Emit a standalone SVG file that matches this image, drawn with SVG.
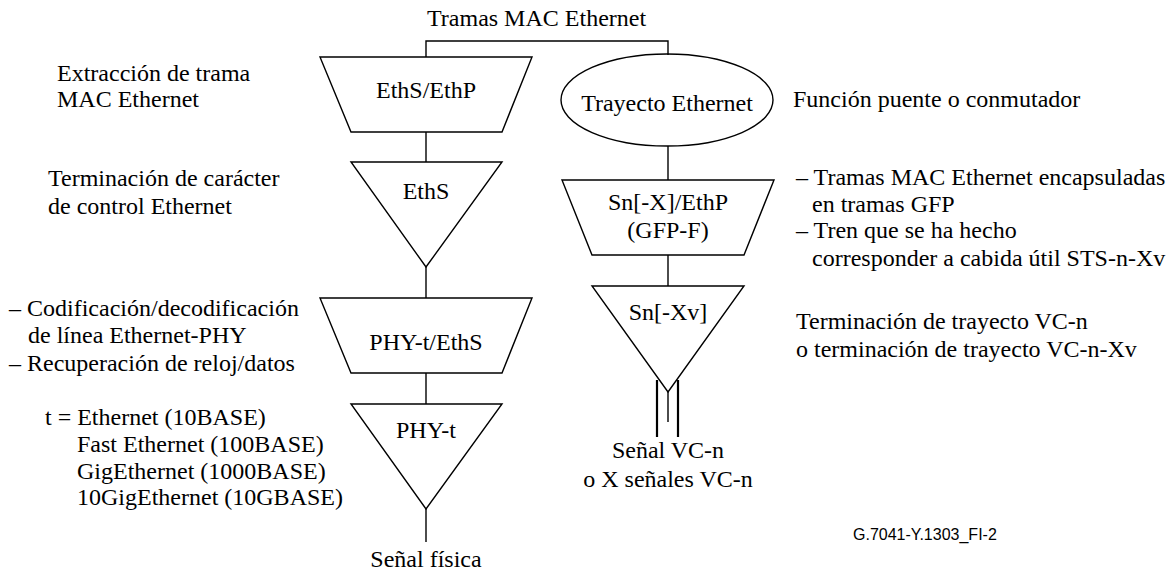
<svg xmlns="http://www.w3.org/2000/svg" width="1173" height="573" viewBox="0 0 1173 573">
<style>
.s{fill:none;stroke:#000;stroke-width:1.4}
.t{font-family:'Liberation Serif','DejaVu Serif',serif;font-size:24px;fill:#000}
.m{text-anchor:middle}
.id{font-family:'Liberation Sans','DejaVu Sans',sans-serif;font-size:16px;fill:#000}
</style>
<rect width="1173" height="573" fill="#fff"/>
<g id="connectors" class="s">
<polyline points="426,57 426,41 668,41 668,55"/>
<line x1="426" y1="132" x2="426" y2="162"/>
<line x1="426" y1="267" x2="426" y2="298"/>
<line x1="426" y1="373" x2="426" y2="404"/>
<line x1="426" y1="509" x2="426" y2="542"/>
<line x1="668" y1="146" x2="668" y2="180"/>
<line x1="668" y1="255" x2="668" y2="286"/>
<line x1="668" y1="392" x2="668" y2="422"/>
<line x1="657" y1="380" x2="657" y2="437" stroke-width="2.2"/>
<line x1="678" y1="380" x2="678" y2="437" stroke-width="2.2"/>
</g>
<g id="title"><text class="t" font-family="Liberation Serif, serif" x="427" y="26">Tramas MAC Ethernet</text></g>
<g id="eths-ethp">
<polygon class="s" points="320,57 532,57 502,132 351,132"/>
<text class="t m" font-family="Liberation Serif, serif" x="426" y="98">EthS/EthP</text>
</g>
<g id="eths">
<polygon class="s" points="351,162 502,162 426,267"/>
<text class="t m" font-family="Liberation Serif, serif" x="426" y="199">EthS</text>
</g>
<g id="phy-t-eths">
<polygon class="s" points="320,298 532,298 502,373 351,373"/>
<text class="t m" font-family="Liberation Serif, serif" x="426" y="350">PHY-t/EthS</text>
</g>
<g id="phy-t">
<polygon class="s" points="351,404 502,404 426,509"/>
<text class="t m" font-family="Liberation Serif, serif" x="426" y="438">PHY-t</text>
</g>
<g id="trayecto">
<ellipse class="s" cx="667" cy="100" rx="106" ry="46"/>
<text class="t m" font-family="Liberation Serif, serif" x="667" y="111">Trayecto Ethernet</text>
</g>
<g id="sn-ethp">
<polygon class="s" points="562,180 774,180 744,255 592,255"/>
<text class="t m" font-family="Liberation Serif, serif" x="668" y="210">Sn[-X]/EthP</text>
<text class="t m" font-family="Liberation Serif, serif" x="668" y="238">(GFP-F)</text>
</g>
<g id="sn-xv">
<polygon class="s" points="592,286 744,286 668,392"/>
<text class="t m" font-family="Liberation Serif, serif" x="668" y="320">Sn[-Xv]</text>
</g>
<g id="labels" font-family="Liberation Serif, serif">
<text class="t" x="57" y="81">Extracción de trama</text>
<text class="t" x="57" y="107">MAC Ethernet</text>
<text class="t" x="48" y="186">Terminación de carácter</text>
<text class="t" x="48" y="214">de control Ethernet</text>
<text class="t" x="9" y="316">– Codificación/decodificación</text>
<text class="t" x="28" y="343">de línea Ethernet-PHY</text>
<text class="t" x="9" y="371">– Recuperación de reloj/datos</text>
<text class="t" x="45" y="425">t = Ethernet (10BASE)</text>
<text class="t" x="77" y="452">Fast Ethernet (100BASE)</text>
<text class="t" x="77" y="479">GigEthernet (1000BASE)</text>
<text class="t" x="77" y="505">10GigEthernet (10GBASE)</text>
<text class="t m" x="426" y="567">Señal física</text>
<text class="t m" x="668" y="458">Señal VC-n</text>
<text class="t m" x="668" y="487">o X señales VC-n</text>
<text class="t" x="793" y="107">Función puente o conmutador</text>
<text class="t" x="796" y="185">– Tramas MAC Ethernet encapsuladas</text>
<text class="t" x="812" y="212">en tramas GFP</text>
<text class="t" x="796" y="238">– Tren que se ha hecho</text>
<text class="t" x="812" y="266">corresponder a cabida útil STS-n-Xv</text>
<text class="t" x="796" y="329">Terminación de trayecto VC-n</text>
<text class="t" x="796" y="357">o terminación de trayecto VC-n-Xv</text>
<text class="id" x="853" y="540">G.7041-Y.1303_FI-2</text>
</g>
</svg>
